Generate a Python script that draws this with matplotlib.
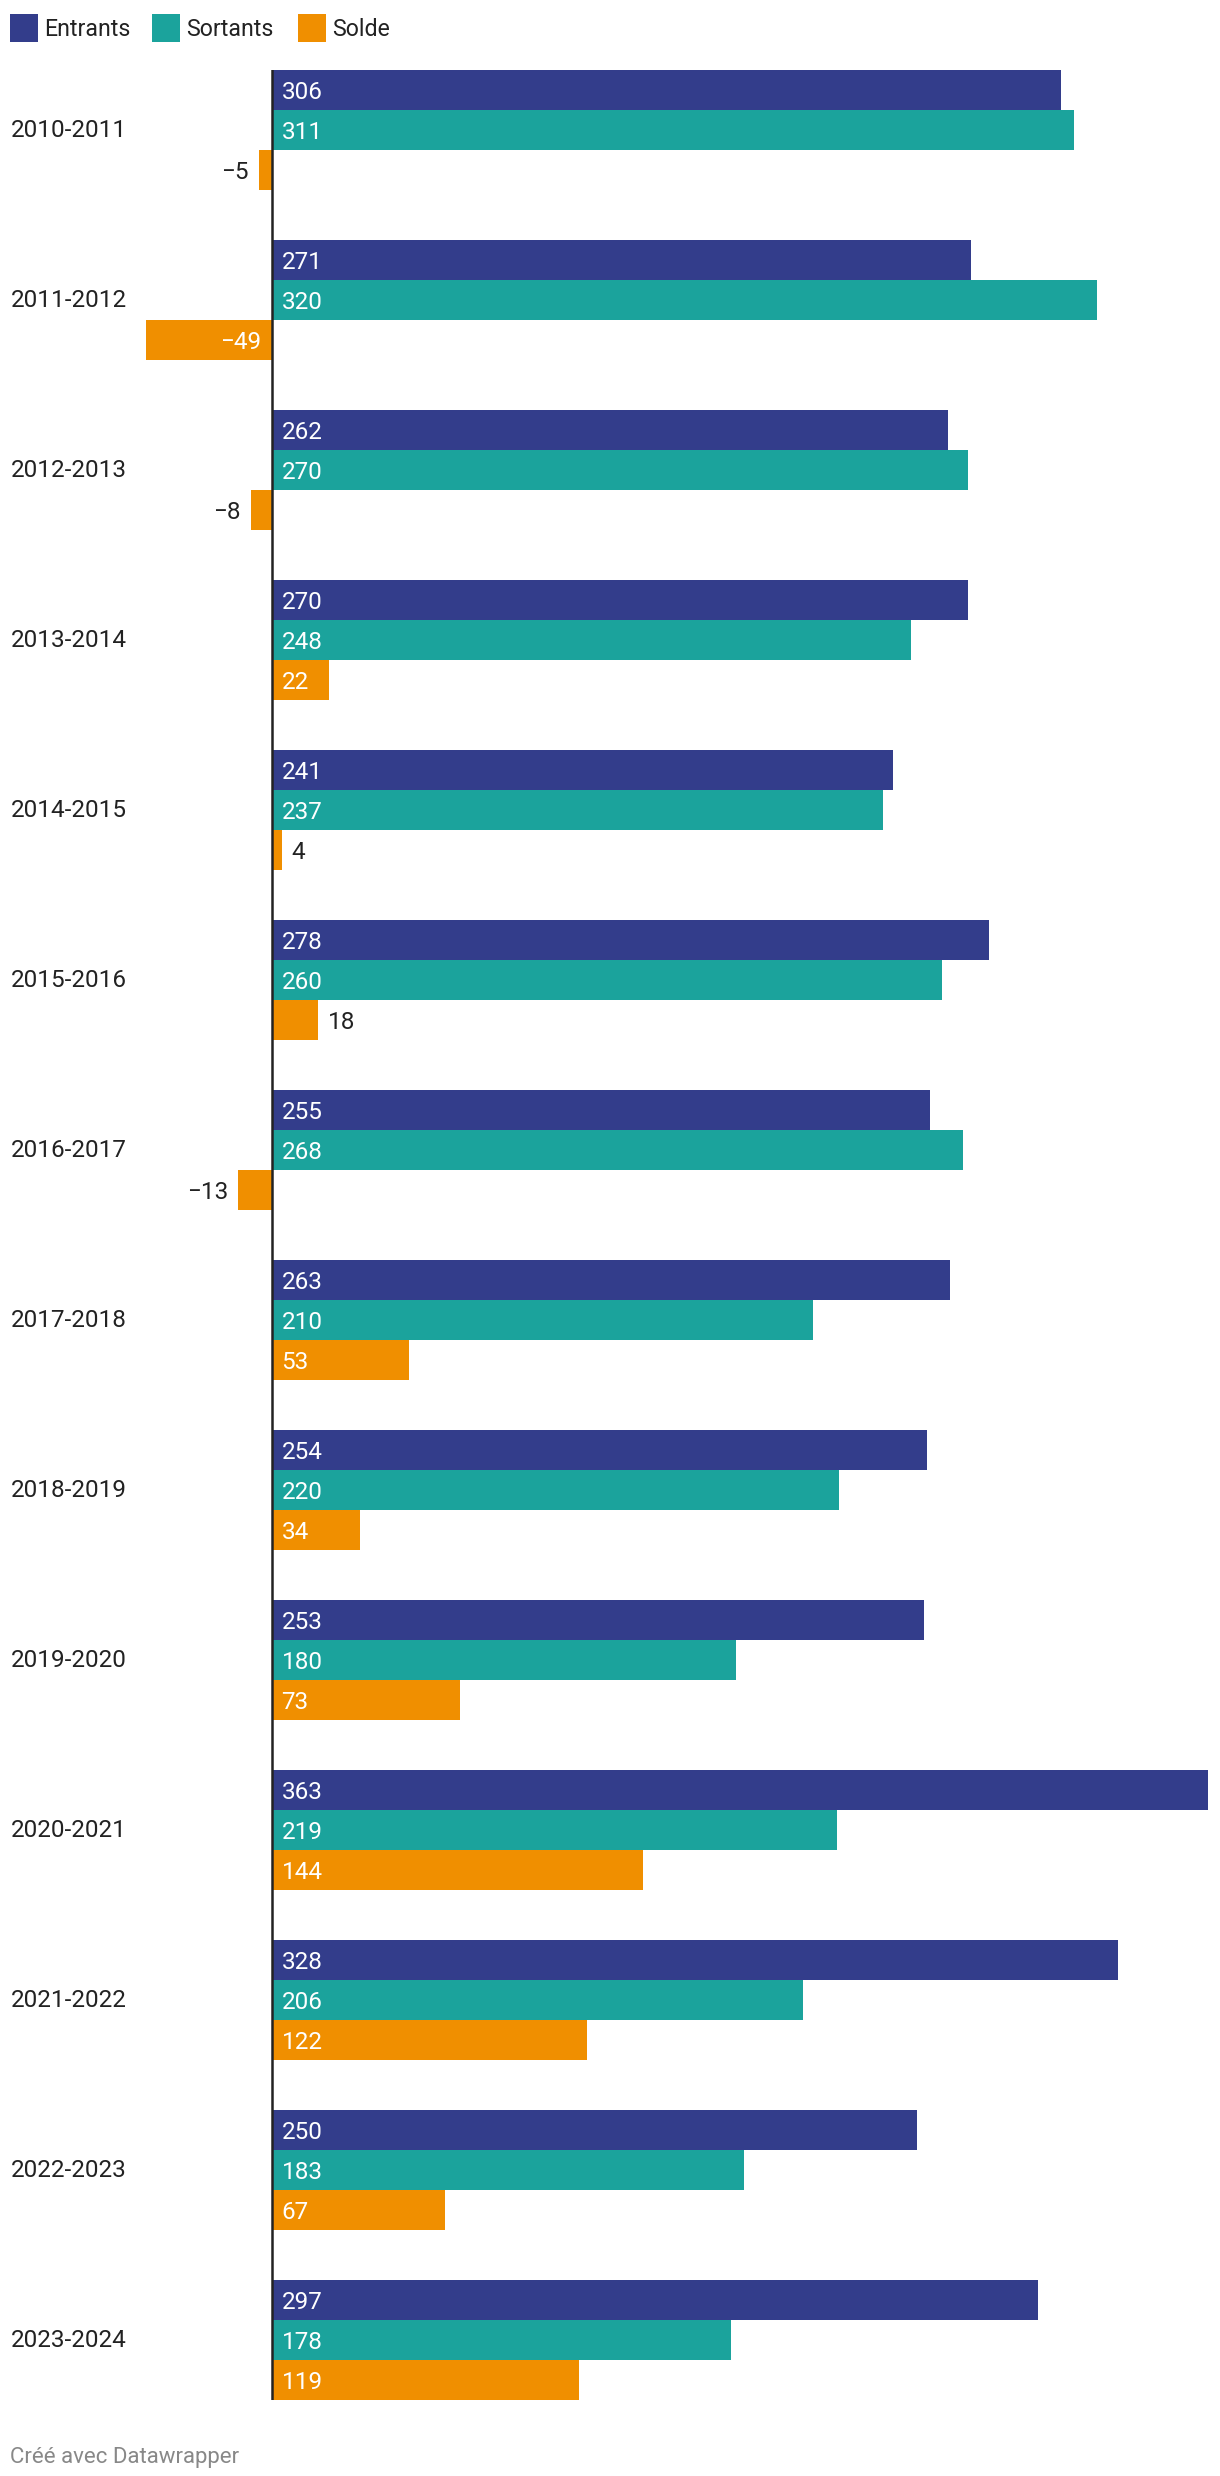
import numpy as np
import matplotlib.pyplot as plt
from matplotlib.patches import Rectangle

plt.rcParams['font.family'] = ['Roboto', 'DejaVu Sans']

periods = ['2010-2011', '2011-2012', '2012-2013', '2013-2014', '2014-2015',
           '2015-2016', '2016-2017', '2017-2018', '2018-2019', '2019-2020',
           '2020-2021', '2021-2022', '2022-2023', '2023-2024']
entrants = [306, 271, 262, 270, 241, 278, 255, 263, 254, 253, 363, 328, 250, 297]
sortants = [311, 320, 270, 248, 237, 260, 268, 210, 220, 180, 219, 206, 183, 178]
solde = [-5, -49, -8, 22, 4, 18, -13, 53, 34, 73, 144, 122, 67, 119]

series = ['Entrants', 'Sortants', 'Solde']
colors = ['#333d8b', '#1ba39c', '#f08f00']

W, H = 1220, 2476
fig = plt.figure(figsize=(W / 100, H / 100), dpi=100)

# axes spans full width, bars area from y=70 to y=2400 px (1 y-unit = 1 px)
top, bottom = 70, 2400
ax = fig.add_axes([0, 1 - bottom / H, 1, (bottom - top) / H])
scale = 936 / 363  # px per unit
x0 = 272
ax.set_xlim(-x0 / scale, (W - x0) / scale)

n = len(periods)
step, bh = 170, 40
ax.set_ylim(bottom - top, 0)

fs = 17.5
base = 0.355 * fs * 100 / 72  # half cap height in px -> baseline shift

for j, (vals, c) in enumerate(zip([entrants, sortants, solde], colors)):
    ys = np.arange(n) * step + j * bh + bh / 2
    ax.barh(ys, vals, height=bh, color=c, linewidth=0)
    for y, v in zip(ys, vals):
        lab = str(v).replace('-', '\u2212')
        yb = y + base
        if abs(v) < 20:
            if v < 0:
                ax.annotate(lab, (v, yb), xytext=(-7.5, 0), textcoords='offset points',
                            ha='right', va='baseline', fontsize=fs, color='#222222')
            else:
                ax.annotate(lab, (v, yb), xytext=(6.8, 0), textcoords='offset points',
                            ha='left', va='baseline', fontsize=fs, color='#222222')
        elif v < 0:
            ax.annotate(lab, (0, yb), xytext=(-7.5, 0), textcoords='offset points',
                        ha='right', va='baseline', fontsize=fs, color='white')
        else:
            ax.annotate(lab, (0, yb), xytext=(6.8, 0), textcoords='offset points',
                        ha='left', va='baseline', fontsize=fs, color='white')

for i, p in enumerate(periods):
    ax.text(11 / W, i * step + 1.5 * bh + base - 2, p, transform=ax.get_yaxis_transform(),
            ha='left', va='baseline', fontsize=fs, color='#222222')

ax.axvline(0, color='#222222', linewidth=1.8)
ax.axis('off')

# legend
leg_x = [10, 152, 298]
for x, s, c in zip(leg_x, series, colors):
    fig.add_artist(Rectangle((x / W, 1 - 42 / H), 28 / W, 28 / H,
                             transform=fig.transFigure, color=c, linewidth=0))
    fig.text((x + 34) / W, 1 - 36 / H, s, ha='left', va='baseline',
             fontsize=16.7, color='#222222')

fig.text(10 / W, 1 - 2462.5 / H, 'Créé avec Datawrapper', ha='left', va='baseline',
         fontsize=16, color='#888888')

fig.savefig('out.png', dpi=100)
